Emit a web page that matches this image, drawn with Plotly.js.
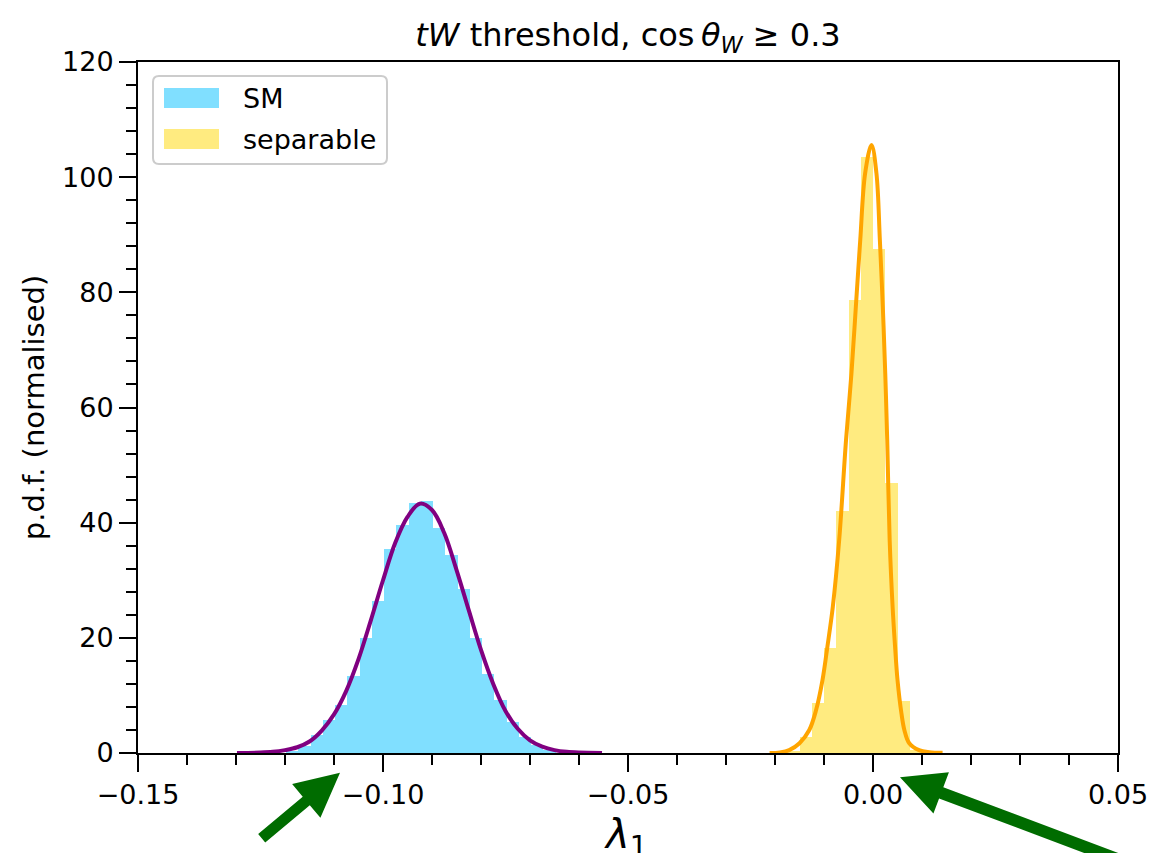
<!DOCTYPE html>
<html>
<head>
<meta charset="utf-8">
<script src="https://cdn.plot.ly/plotly-3.0.1.min.js"></script>
<style>
html,body{margin:0;padding:0;background:#ffffff;}
#chart{width:1151px;height:853px;}
</style>
</head>
<body>
<div id="chart"></div>
<script>
// ---- data ----
const seriesNames = ['SM', 'separable'];

// SM histogram (bin centres, normalised heights)
const smBinCenters = [-0.1185, -0.1160, -0.1135, -0.1110, -0.1085, -0.1060, -0.1035, -0.1010,
  -0.0985, -0.0960, -0.0935, -0.0910, -0.0885, -0.0860, -0.0835, -0.0810, -0.0785, -0.0760,
  -0.0735, -0.0710, -0.0685, -0.0660];
const smHeights = [0.4, 1.3, 3.1, 5.7, 8.3, 13.3, 20.0, 26.4,
  35.5, 39.6, 43.4, 43.7, 39.0, 34.4, 28.4, 19.9, 13.7, 9.2,
  5.4, 2.7, 1.4, 0.5];

// separable histogram
const sepBinCenters = [-0.01875, -0.01625, -0.01375, -0.01125, -0.00875, -0.00625,
  -0.00375, -0.00125, 0.00125, 0.00375, 0.00625, 0.00875];
const sepHeights = [0.1, 0.4, 2.8, 8.6, 18.2, 42.1, 78.6, 103.5, 87.5, 46.9, 9.0, 0.6];

const binWidth = 0.0025;

// fitted curves
const smFitX = [-0.1298, -0.1250, -0.1225, -0.1200, -0.1175, -0.1150, -0.1125, -0.1100,
  -0.1075, -0.1050, -0.1025, -0.1000, -0.0975, -0.0950, -0.0925, -0.0900, -0.0875, -0.0850,
  -0.0825, -0.0800, -0.0775, -0.0750, -0.0725, -0.0700, -0.0675, -0.0650, -0.0625, -0.0600, -0.0553];
const smFitY = [0.02, 0.08, 0.2, 0.5, 1.0, 2.0, 3.9, 6.7,
  10.8, 16.3, 23.0, 30.0, 36.5, 41.0, 43.3, 42.2, 38.2, 31.8,
  24.8, 17.9, 12.0, 7.3, 4.2, 2.2, 1.1, 0.5, 0.2, 0.08, 0.01];

const sepFitX = [-0.0211, -0.0190, -0.0171, -0.0150, -0.0130, -0.0116, -0.0103, -0.0093,
  -0.0082, -0.0069, -0.0055, -0.0044, -0.0035, -0.0026, -0.0016, -0.0003, 0.0007, 0.0014,
  0.0020, 0.0025, 0.0029, 0.0034, 0.0040, 0.0045, 0.0050, 0.0058, 0.0064, 0.0074, 0.0094,
  0.0115, 0.0142];
const sepFitY = [0.0, 0.1, 0.5, 1.7, 4.0, 7.5, 12.7, 18.5,
  25.4, 37.0, 54.4, 65.9, 77.5, 89.1, 100.7, 105.6, 100.7, 89.1,
  77.5, 65.9, 54.4, 37.0, 25.4, 18.5, 12.7, 6.9, 4.0, 1.7, 0.5,
  0.15, 0.05];

const xRange = [-0.15, 0.05];
const yRange = [0, 120];

const titleText = '<i>tW</i> threshold, cos\u2009<i>θ</i><sub><i>W</i></sub> ≥ 0.3';
const xLabel = '<i>λ</i><sub>1</sub>';
const yLabel = 'p.d.f. (normalised)';

// ---- styling ----
const FONT = 'DejaVu Sans, Verdana, sans-serif';
const smFill = '#80DFFF';
const sepFill = '#FFEB80';
const smLine = '#800080';
const sepLine = '#FFA500';
const arrowColor = '#006c00';

const W = 1151, H = 853;
const M = {l: 138, r: 33, t: 62, b: 100};
const PW = W - M.l - M.r, PH = H - M.t - M.b;
function px2paperX(px) { return (px - M.l) / PW; }
function px2paperY(py) { return (H - M.b - py) / PH; }

const traces = [
  {type: 'bar', x: smBinCenters, y: smHeights, width: smBinCenters.map(() => binWidth),
   marker: {color: smFill, line: {width: 0}}, name: seriesNames[0], showlegend: false, hoverinfo: 'skip'},
  {type: 'bar', x: sepBinCenters, y: sepHeights, width: sepBinCenters.map(() => binWidth),
   marker: {color: sepFill, line: {width: 0}}, name: seriesNames[1], showlegend: false, hoverinfo: 'skip'},
  {type: 'scatter', mode: 'lines', x: smFitX, y: smFitY,
   line: {color: smLine, width: 4, shape: 'spline', smoothing: 1}, showlegend: false, hoverinfo: 'skip'},
  {type: 'scatter', mode: 'lines', x: sepFitX, y: sepFitY,
   line: {color: sepLine, width: 4, shape: 'spline', smoothing: 1}, showlegend: false, hoverinfo: 'skip'}
];

// legend (drawn manually to match wide patches)
const lgX0 = px2paperX(153), lgX1 = px2paperX(387), lgY0 = px2paperY(164), lgY1 = px2paperY(76);
const rx = 6 / PW, ry = 6 / PH;
const legendPath = `M${lgX0 + rx},${lgY1} L${lgX1 - rx},${lgY1} Q${lgX1},${lgY1} ${lgX1},${lgY1 - ry} ` +
  `L${lgX1},${lgY0 + ry} Q${lgX1},${lgY0} ${lgX1 - rx},${lgY0} L${lgX0 + rx},${lgY0} ` +
  `Q${lgX0},${lgY0} ${lgX0},${lgY0 + ry} L${lgX0},${lgY1 - ry} Q${lgX0},${lgY1} ${lgX0 + rx},${lgY1} Z`;

// block arrows as filled polygons (tip, tail in pixels)
function arrowPath(tip, tail, headLen, headHalf, shaftHalf) {
  const dx = tip[0] - tail[0], dy = tip[1] - tail[1];
  const L = Math.hypot(dx, dy);
  const ux = dx / L, uy = dy / L;
  const nx = -uy, ny = ux;
  const bx = tip[0] - headLen * ux, by = tip[1] - headLen * uy;
  const pts = [
    tip,
    [bx + headHalf * nx, by + headHalf * ny],
    [bx + shaftHalf * nx, by + shaftHalf * ny],
    [tail[0] + shaftHalf * nx, tail[1] + shaftHalf * ny],
    [tail[0] - shaftHalf * nx, tail[1] - shaftHalf * ny],
    [bx - shaftHalf * nx, by - shaftHalf * ny],
    [bx - headHalf * nx, by - headHalf * ny]
  ];
  return pts.map((p, i) => (i ? 'L' : 'M') + px2paperX(p[0]).toFixed(5) + ',' + px2paperY(p[1]).toFixed(5)).join(' ') + ' Z';
}

const shapes = [
  {type: 'path', xref: 'paper', yref: 'paper', path: legendPath,
   fillcolor: 'rgba(255,255,255,0.8)', line: {color: '#cccccc', width: 2}},
  {type: 'rect', xref: 'paper', yref: 'paper', x0: px2paperX(164), x1: px2paperX(219),
   y0: px2paperY(108), y1: px2paperY(88), fillcolor: smFill, line: {width: 0}},
  {type: 'rect', xref: 'paper', yref: 'paper', x0: px2paperX(164), x1: px2paperX(219),
   y0: px2paperY(149), y1: px2paperY(129), fillcolor: sepFill, line: {width: 0}},
  {type: 'path', xref: 'paper', yref: 'paper', path: arrowPath([340, 772.7], [261.7, 838.3], 44, 22, 5.5),
   fillcolor: arrowColor, line: {width: 0}},
  {type: 'path', xref: 'paper', yref: 'paper', path: arrowPath([900, 777.3], [1181, 883], 44, 22, 6),
   fillcolor: arrowColor, line: {width: 0}}
];

const annotations = [
  {xref: 'paper', yref: 'paper', x: px2paperX(241), y: px2paperY(98), xanchor: 'left', yanchor: 'middle',
   text: seriesNames[0], showarrow: false, font: {family: FONT, size: 27, color: '#000'}},
  {xref: 'paper', yref: 'paper', x: px2paperX(241), y: px2paperY(139), xanchor: 'left', yanchor: 'middle',
   text: seriesNames[1], showarrow: false, font: {family: FONT, size: 27, color: '#000'}},
  // x-axis label (partly cut off by the bottom edge, as in the reference)
  {xref: 'paper', yref: 'paper', x: px2paperX(626), y: px2paperY(809), xanchor: 'center', yanchor: 'top',
   text: xLabel, showarrow: false, font: {family: FONT, size: 40, color: '#000'}}
];

const layout = {
  width: W, height: H,
  margin: M,
  paper_bgcolor: '#ffffff', plot_bgcolor: '#ffffff',
  font: {family: FONT, color: '#000'},
  barmode: 'overlay', bargap: 0,
  title: {text: titleText,
          font: {family: FONT, size: 32, color: '#000'},
          x: 0.5456, xanchor: 'center', xref: 'container',
          y: 1 - 35 / H, yanchor: 'middle', yref: 'container'},
  xaxis: {
    range: xRange, tickmode: 'linear', tick0: -0.15, dtick: 0.05, tickformat: '.2f',
    showgrid: false, zeroline: false, showline: true, mirror: true, linecolor: '#000', linewidth: 2,
    ticks: 'outside', ticklen: 17, tickwidth: 2, tickcolor: '#000',
    tickfont: {family: FONT, size: 27, color: '#000'},
    minor: {tick0: -0.15, dtick: 0.01, ticks: 'outside', ticklen: 10, tickwidth: 2, tickcolor: '#000', showgrid: false},
    automargin: false
  },
  yaxis: {
    range: yRange, tickmode: 'linear', tick0: 0, dtick: 20,
    showgrid: false, zeroline: false, showline: true, mirror: true, linecolor: '#000', linewidth: 2,
    ticks: 'outside', ticklen: 17, tickwidth: 2, tickcolor: '#000',
    tickfont: {family: FONT, size: 27, color: '#000'},
    minor: {tick0: 0, dtick: 4, ticks: 'outside', ticklen: 10, tickwidth: 2, tickcolor: '#000', showgrid: false},
    title: {text: yLabel, font: {family: FONT, size: 29, color: '#000'}, standoff: 9},
    automargin: false
  },
  shapes: shapes,
  annotations: annotations,
  showlegend: false
};

Plotly.newPlot('chart', traces, layout, {displayModeBar: false, staticPlot: true});
</script>
</body>
</html>
